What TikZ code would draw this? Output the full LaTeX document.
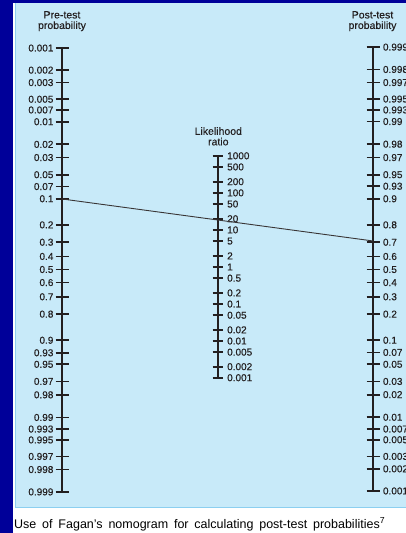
\documentclass[tikz,border=0pt]{standalone}
\usepackage{fontspec}
\setmainfont{Liberation Sans}
\newfontfamily\nomofont{Liberation Sans}[FakeBold=0.35]
\definecolor{navy}{RGB}{0,0,153}
\definecolor{panelblue}{RGB}{200,234,249}
\definecolor{panelborder}{RGB}{140,207,240}
\definecolor{inkdark}{RGB}{35,31,32}
\tikzset{
  tickmark/.style={draw=inkdark, line width=1.8pt},
  axisline/.style={draw=inkdark, line width=2pt},
  labtext/.style={inner sep=0pt, text=inkdark, font=\nomofont\fontsize{10}{12}\selectfont},
  titletext/.style={inner sep=0pt, text=inkdark, align=center, anchor=north,
                    font=\nomofont\fontsize{10.5}{10.5}\selectfont},
  resultline/.style={draw=inkdark!90, line width=0.9pt}
}
\begin{document}
\begin{tikzpicture}[x=1pt,y=-1pt]
\useasboundingbox (0,0) rectangle (406,533);
% backgrounds
\fill[navy] (0,0) rectangle (406,533);
\fill[white] (13,3) rectangle (406,533);
\fill[panelblue] (15,3) rectangle (412,508);
\draw[panelborder, line width=1.4pt] (15.7,3) -- (15.7,507.3) -- (412,507.3);
% titles
\node[titletext] (pretitle) at (62,11) {Pre-test\\probability};
\node[titletext] (posttitle) at (372.5,11) {Post-test\\probability};
\node[titletext] (lrtitle) at (218.3,127) {Likelihood\\ratio};
% axes
\draw[axisline] (62.3,46.8) -- (62.3,492.2);
\draw[axisline] (373.3,46.8) -- (373.3,492.2);
\draw[axisline] (218,155.8) -- (218,378.2);
% left axis: pre-test probability
\foreach \p [count=\i] in {0.001,0.002,0.003,0.005,0.007,0.01,0.02,0.03,0.05,0.07,0.1,0.2,0.3,0.4,0.5,0.6,0.7,0.8,0.9,0.93,0.95,0.97,0.98,0.99,0.993,0.995,0.997,0.998,0.999}{
  \pgfmathsetmacro\yy{269.5+32.2*ln(\p/(1-\p))}
  \draw[tickmark] (55.7,\yy) -- (69,\yy);
  \node[labtext, anchor=east] (pl\i) at (53.6,\yy) {\p};
}
% right axis: post-test probability
\foreach \p [count=\i] in {0.999,0.998,0.997,0.995,0.993,0.99,0.98,0.97,0.95,0.93,0.9,0.8,0.7,0.6,0.5,0.4,0.3,0.2,0.1,0.07,0.05,0.03,0.02,0.01,0.007,0.005,0.003,0.002,0.001}{
  \pgfmathsetmacro\yy{269.5-32.2*ln(\p/(1-\p))}
  \draw[tickmark] (366.7,\yy) -- (380,\yy);
  \node[labtext, anchor=west] (pr\i) at (382.8,\yy) {\p};
}
% middle axis: likelihood ratio
\foreach \r [count=\i] in {1000,500,200,100,50,20,10,5,2,1,0.5,0.2,0.1,0.05,0.02,0.01,0.005,0.002,0.001}{
  \pgfmathsetmacro\yy{267-16.1*ln(\r)}
  \draw[tickmark] (212.7,\yy) -- (223.3,\yy);
  \node[labtext, anchor=west] (lr\i) at (227,\yy) {\r};
}
% example line
\coordinate (pre) at (62.3,199);
\coordinate (post) at (373.3,241);
\draw[resultline] (pre) -- (post);
% caption
\node[inner sep=0pt, anchor=base west, font=\fontsize{12.5}{14}\selectfont] (caption) at (14,528)
  {\makebox[371pt][s]{Use of Fagan's nomogram for calculating post-test probabilities\textsuperscript{7}}};
\end{tikzpicture}
\end{document}
